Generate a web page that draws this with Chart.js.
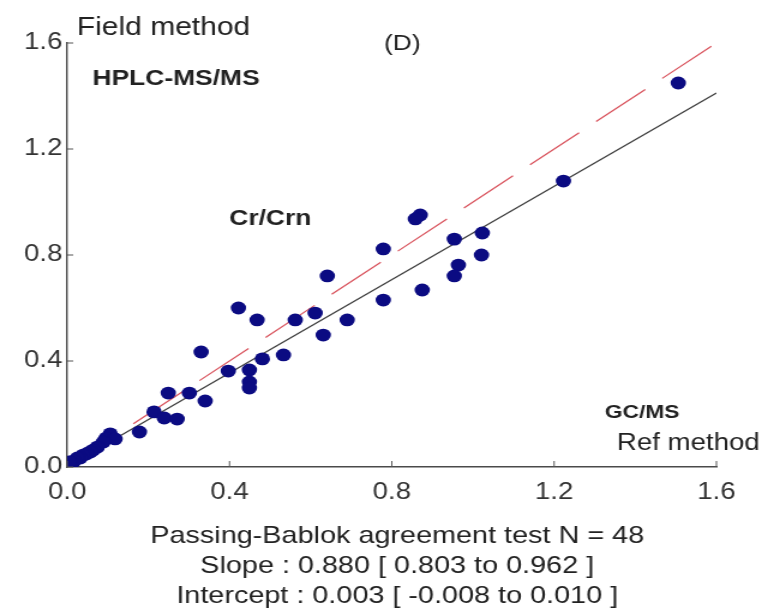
<!DOCTYPE html>
<html>
<head>
<meta charset="utf-8">
<title>Cr/Crn - Passing-Bablok</title>
<script src="https://cdn.jsdelivr.net/npm/chart.js@4.4.1/dist/chart.umd.min.js"></script>
<style>
  html, body { margin: 0; padding: 0; background: #fff; overflow: hidden; }
  /* the figure is a little wider than it is drawn, so the box is stretched */
  #wrap { width: 639px; height: 611px; transform: scaleX(1.2); transform-origin: 0 0; }
  #pbChart { display: block; }
</style>
</head>
<body>
<div id="wrap"><canvas id="pbChart" width="639" height="611"></canvas></div>
<script>
// GC/MS (reference method) values
var refX = [
  1.506, 1.223, 1.023, 0.954, 1.021, 0.964, 0.954, 0.870, 0.858, 0.779,
  0.641, 0.875, 0.779, 0.422, 0.468, 0.562, 0.611, 0.690, 0.631, 0.330,
  0.397, 0.449, 0.481, 0.533, 0.449, 0.449, 0.249, 0.301, 0.340, 0.214,
  0.239, 0.271, 0.178, 0.106, 0.096, 0.118, 0.089, 0.074, 0.064, 0.057,
  0.047, 0.039, 0.032, 0.025, 0.017, 0.012, 0.007, 0.005
];
// HPLC-MS/MS (field method) values
var fieldY = [
  1.449, 1.079, 0.883, 0.860, 0.800, 0.762, 0.721, 0.951, 0.936, 0.823,
  0.721, 0.668, 0.630, 0.600, 0.555, 0.555, 0.581, 0.555, 0.498, 0.434,
  0.362, 0.366, 0.408, 0.423, 0.321, 0.298, 0.279, 0.279, 0.249, 0.208,
  0.185, 0.181, 0.132, 0.125, 0.109, 0.106, 0.094, 0.075, 0.064, 0.057,
  0.049, 0.045, 0.034, 0.034, 0.023, 0.015, 0.008, 0.019
];

// regression line (slope 0.880, intercept 0.003) and line of identity
var lineX = [0, 1.6];
var fitY = [0.003, 1.411];
var identityY = [0, 1.6];

var tickValues = [0, 0.4, 0.8, 1.2, 1.6];
var tickLabels = ["0.0", "0.4", "0.8", "1.2", "1.6"];

var FONT = "'Liberation Sans', Arial, Helvetica, sans-serif";

function toPoints(xs, ys) {
  var pts = [];
  for (var i = 0; i < xs.length; i++) {
    pts.push({ x: xs[i], y: ys[i] });
  }
  return pts;
}

// inward tick marks + free text labels
var figureText = {
  id: "figureText",
  afterDraw: function (chart) {
    var ctx = chart.ctx;
    var xs = chart.scales.x;
    var ys = chart.scales.y;
    var area = chart.chartArea;

    ctx.save();
    ctx.strokeStyle = "#555";
    ctx.lineWidth = 1;
    for (var i = 0; i < tickValues.length; i++) {
      var px = xs.getPixelForValue(tickValues[i]);
      ctx.beginPath();
      ctx.moveTo(px, area.bottom);
      ctx.lineTo(px, area.bottom - 6);
      ctx.stroke();

      var py = ys.getPixelForValue(tickValues[i]);
      ctx.beginPath();
      ctx.moveTo(area.left, py);
      ctx.lineTo(area.left + 5, py);
      ctx.stroke();
    }

    ctx.fillStyle = "#222";
    ctx.textBaseline = "alphabetic";
    ctx.textAlign = "left";

    ctx.font = "25px " + FONT;
    ctx.fillText("Field method", 64, 35);

    ctx.font = "22px " + FONT;
    ctx.fillText("(D)", 320, 50);

    ctx.font = "bold 22px " + FONT;
    ctx.fillText("HPLC-MS/MS", 77, 85);
    ctx.fillText("Cr/Crn", 191, 225);

    ctx.font = "bold 19px " + FONT;
    ctx.fillText("GC/MS", 504, 418);

    ctx.textAlign = "right";
    ctx.font = "23px " + FONT;
    ctx.fillText("Ref method", 633, 450);

    ctx.textAlign = "center";
    ctx.font = "24px " + FONT;
    ctx.fillText("Passing-Bablok agreement test N = 48", 331, 543);
    ctx.fillText("Slope : 0.880 [ 0.803 to 0.962 ]", 331, 573);
    ctx.fillText("Intercept : 0.003 [ -0.008 to 0.010 ]", 331, 603);
    ctx.restore();
  }
};

var pbChart = new Chart(document.getElementById("pbChart"), {
  type: "scatter",
  data: {
    datasets: [
      {
        label: "Cr/Crn",
        data: toPoints(refX, fieldY),
        backgroundColor: "#0b0b82",
        borderWidth: 0,
        pointRadius: 6.4,
        pointHoverRadius: 6.4
      },
      {
        label: "Passing-Bablok fit",
        data: toPoints(lineX, fitY),
        showLine: true,
        borderColor: "#3a3a3a",
        borderWidth: 1.2,
        pointRadius: 0
      },
      {
        label: "y = x",
        data: toPoints(lineX, identityY),
        showLine: true,
        borderColor: "#d8505a",
        borderWidth: 1.2,
        borderDash: [52, 18],
        pointRadius: 0
      }
    ]
  },
  options: {
    responsive: false,
    animation: false,
    events: [],
    layout: {
      autoPadding: false,
      padding: { left: 8, right: 42, top: 43, bottom: 0 }
    },
    plugins: {
      legend: { display: false },
      tooltip: { enabled: false }
    },
    scales: {
      x: {
        type: "linear",
        min: 0,
        max: 1.6,
        afterBuildTicks: function (s) {
          s.ticks = tickValues.map(function (v) { return { value: v }; });
        },
        afterFit: function (s) { s.height = 144; },
        ticks: {
          autoSkip: false,
          maxRotation: 0,
          padding: 12,
          color: "#333",
          font: { family: FONT, size: 23 },
          callback: function (v, i) { return tickLabels[i]; }
        },
        grid: { drawOnChartArea: false, drawTicks: false },
        border: { color: "#4a4a4a", width: 1.4 }
      },
      y: {
        type: "linear",
        min: 0,
        max: 1.6,
        afterBuildTicks: function (s) {
          s.ticks = tickValues.map(function (v) { return { value: v }; });
        },
        afterFit: function (s) { s.width = 48; },
        ticks: {
          autoSkip: false,
          padding: 4,
          color: "#333",
          font: { family: FONT, size: 23 },
          callback: function (v, i) { return tickLabels[i]; }
        },
        grid: { drawOnChartArea: false, drawTicks: false },
        border: { color: "#4a4a4a", width: 1.4 }
      }
    }
  },
  plugins: [figureText]
});
</script>
</body>
</html>
